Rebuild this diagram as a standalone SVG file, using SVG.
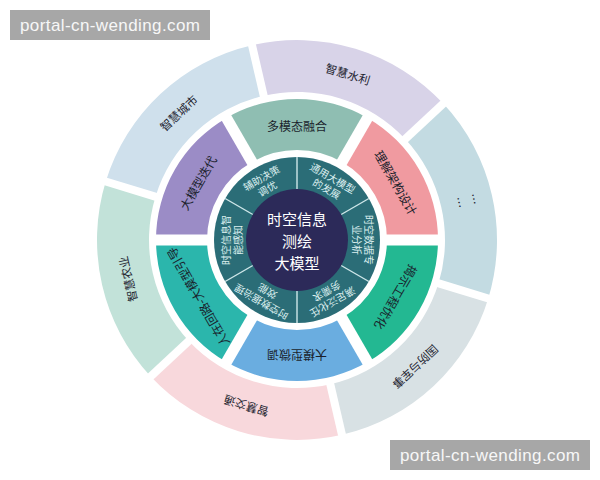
<svg xmlns="http://www.w3.org/2000/svg" width="600" height="480" viewBox="0 0 600 480">
<style>
text{font-family:"Noto Sans CJK SC","Noto Sans",sans-serif;text-anchor:middle;dominant-baseline:central}
.o{font-size:11.5px;fill:#1e2430}
.m{font-size:12px;fill:#1a1f2c}
.i{font-size:10px;fill:#dcefef}
.c{font-size:15px;fill:#ffffff}
.gap{stroke:#ffffff;stroke-linecap:butt}
.div{stroke:#cfe7e9;stroke-width:1.4}
.wm{fill:#a7a7a7}
.wmt{font-family:"Liberation Sans",Arial,sans-serif;font-size:17px;fill:#f7f7f7;text-anchor:start;dominant-baseline:auto}
</style>
<rect width="600" height="480" fill="#ffffff"/>

<g id="outer-ring">
<g id="n-shuili"><path d="M252.01,45.13 A200,200 0 0 1 443.27,103.60 L405.24,139.06 A148,148 0 0 0 263.71,95.79 Z" fill="#d8d3e8"/><text class="o" x="297" y="66" transform="rotate(17 297 240)">智慧水利</text></g>
<g id="n-more"><path d="M443.27,103.60 A200,200 0 0 1 488.26,298.47 L438.53,283.27 A148,148 0 0 0 405.24,139.06 Z" fill="#c3dbe2"/><text class="o" x="297" y="58" font-size="13" transform="rotate(77 297 240)">…</text><text class="o" x="297" y="73" font-size="13" transform="rotate(77 297 240)">…</text></g>
<g id="n-guofang"><path d="M488.26,298.47 A200,200 0 0 1 341.99,434.87 L330.29,384.21 A148,148 0 0 0 438.53,283.27 Z" fill="#d8e1e4"/><text class="o" x="297" y="66" transform="rotate(137 297 240)">国防与军事</text></g>
<g id="n-jiaotong"><path d="M341.99,434.87 A200,200 0 0 1 150.73,376.40 L188.76,340.94 A148,148 0 0 0 330.29,384.21 Z" fill="#f8d8dc"/><text class="o" x="297" y="66" transform="rotate(197 297 240)">智慧交通</text></g>
<g id="n-nongye"><path d="M150.73,376.40 A200,200 0 0 1 105.74,181.53 L155.47,196.73 A148,148 0 0 0 188.76,340.94 Z" fill="#c2e2d9"/><text class="o" x="297" y="66" transform="rotate(257 297 240)">智慧农业</text></g>
<g id="n-chengshi"><path d="M105.74,181.53 A200,200 0 0 1 252.01,45.13 L263.71,95.79 A148,148 0 0 0 155.47,196.73 Z" fill="#cfe0ec"/><text class="o" x="297" y="66" transform="rotate(317 297 240)">智慧城市</text></g>
</g>

<g id="middle-ring">
<g id="n-duomotai"><path d="M226.5,117.89 A141,141 0 0 1 367.5,117.89 L342,162.06 A90,90 0 0 0 252,162.06 Z" fill="#8fbeb2"/><text class="m" x="297" y="125">多模态融合</text></g>
<g id="n-lijie"><path d="M367.5,117.89 A141,141 0 0 1 438,240 L387,240 A90,90 0 0 0 342,162.06 Z" fill="#f09aa0"/><text class="m" x="297" y="125" transform="rotate(60 297 240)">理解架构设计</text></g>
<g id="n-jieshi"><path d="M438,240 A141,141 0 0 1 367.5,362.11 L342,317.94 A90,90 0 0 0 387,240 Z" fill="#23b892"/><text class="m" x="297" y="125" transform="rotate(120 297 240)">揭示工程优化</text></g>
<g id="n-weitiao"><path d="M367.5,362.11 A141,141 0 0 1 226.5,362.11 L252,317.94 A90,90 0 0 0 342,317.94 Z" fill="#6aade0"/><text class="m" x="297" y="125" transform="rotate(180 297 240)">大模型微调</text></g>
<g id="n-renzai"><path d="M226.5,362.11 A141,141 0 0 1 156,240 L207,240 A90,90 0 0 0 252,317.94 Z" fill="#2bb6ac"/><text class="m" x="297" y="125" font-size="10.5" transform="rotate(240 297 240)">人在回路-大模型引导</text></g>
<g id="n-diedai"><path d="M156,240 A141,141 0 0 1 226.5,117.89 L252,162.06 A90,90 0 0 0 207,240 Z" fill="#9b8cc6"/><text class="m" x="297" y="125" transform="rotate(300 297 240)">大模型迭代</text></g>
</g>

<g id="connectors">
<g class="gap" stroke-width="8">
<line x1="264.61" y1="99.69" x2="250.66" y2="39.28"/>
<line x1="402.31" y1="141.79" x2="447.66" y2="99.51"/>
<line x1="434.71" y1="282.10" x2="494.00" y2="300.23"/>
<line x1="329.39" y1="380.31" x2="343.34" y2="440.72"/>
<line x1="191.69" y1="338.21" x2="146.34" y2="380.49"/>
<line x1="159.29" y1="197.90" x2="100.00" y2="179.77"/>
</g>
<g class="gap" stroke-width="11">
<line x1="340" y1="165.52" x2="369.5" y2="114.43"/>
<line x1="383" y1="240" x2="442" y2="240"/>
<line x1="340" y1="314.48" x2="369.5" y2="365.57"/>
<line x1="254" y1="314.48" x2="224.5" y2="365.57"/>
<line x1="211" y1="240" x2="152" y2="240"/>
<line x1="254" y1="165.52" x2="224.5" y2="114.43"/>
</g>
</g>

<g id="inner-ring">
<circle cx="297" cy="240" r="83" fill="#2b6d77"/>
<g class="div">
<line x1="297" y1="189" x2="297" y2="157"/>
<line x1="341.17" y1="214.5" x2="368.88" y2="198.5"/>
<line x1="341.17" y1="265.5" x2="368.88" y2="281.5"/>
<line x1="297" y1="291" x2="297" y2="323"/>
<line x1="252.83" y1="265.5" x2="225.12" y2="281.5"/>
<line x1="252.83" y1="214.5" x2="225.12" y2="198.5"/>
</g>
<g id="n-tongyong" transform="rotate(30 297 240)"><text class="i" x="297" y="168">通用大模型</text><text class="i" x="297" y="180">的发展</text></g>
<g id="n-zhuanye" transform="rotate(90 297 240)"><text class="i" x="297" y="168">时空数据专</text><text class="i" x="297" y="180">业分析</text></g>
<g id="n-fanhua" transform="rotate(150 297 240)"><text class="i" x="297" y="168">满足泛化任</text><text class="i" x="297" y="180">务需求</text></g>
<g id="n-zhili" transform="rotate(210 297 240)"><text class="i" x="297" y="168">时空数据治理</text><text class="i" x="297" y="180">效能</text></g>
<g id="n-ganzhi" transform="rotate(270 297 240)"><text class="i" x="297" y="168">时空信息智</text><text class="i" x="297" y="180">能感知</text></g>
<g id="n-juece" transform="rotate(330 297 240)"><text class="i" x="297" y="168">辅助决策</text><text class="i" x="297" y="180">调优</text></g>
</g>

<g id="n-center">
<circle cx="297" cy="240" r="51" fill="#2c2a59"/>
<text class="c" x="297" y="218">时空信息</text>
<text class="c" x="297" y="240">测绘</text>
<text class="c" x="297" y="262">大模型</text>
</g>

<g id="watermarks">
<rect class="wm" x="10" y="10" width="200" height="30"/>
<text class="wmt" x="20" y="31" textLength="180">portal-cn-wending.com</text>
<rect class="wm" x="390" y="440" width="200" height="30"/>
<text class="wmt" x="400" y="461" textLength="180">portal-cn-wending.com</text>
</g>
</svg>
